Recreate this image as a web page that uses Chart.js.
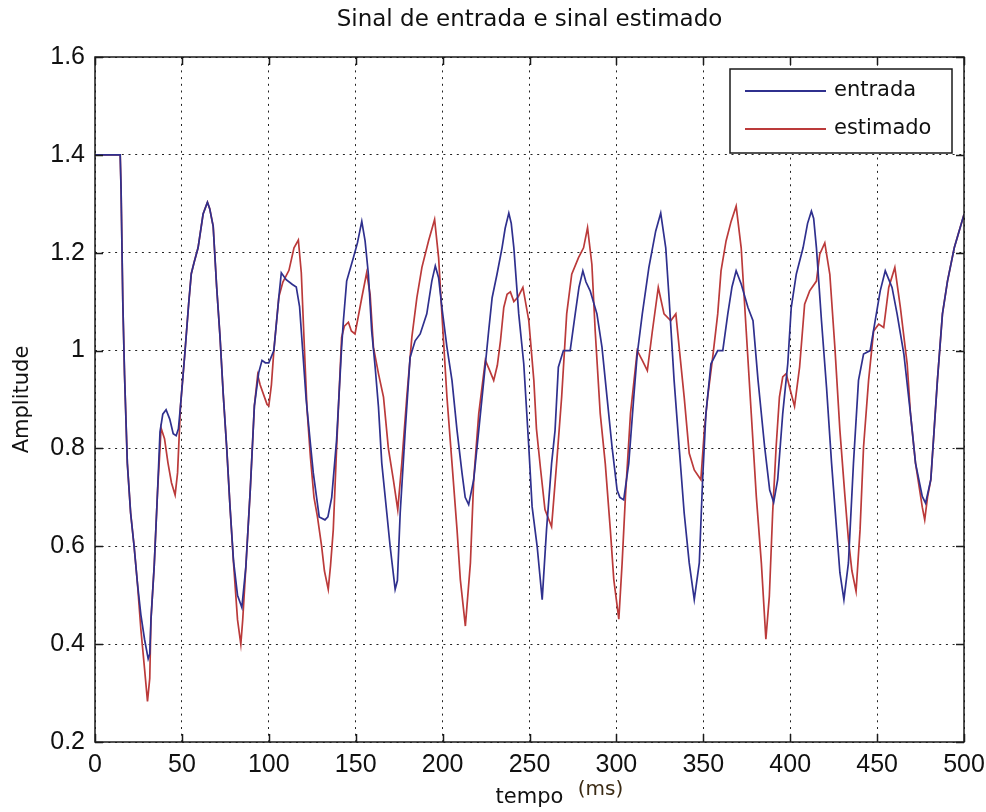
<!DOCTYPE html>
<html>
<head>
<meta charset="utf-8">
<script src="https://cdn.jsdelivr.net/npm/chart.js@4.4.0/dist/chart.umd.min.js"></script>
<style>
  html, body { margin: 0; padding: 0; background: #fff; }
  canvas { display: block; }
</style>
</head>
<body>
<canvas id="chart" width="986" height="812"></canvas>
<script>
// tempo (ms) / amplitude
const tEntrada = [0, 14.5, 15, 16, 17, 18.6, 20.5, 22.5, 24.4, 26.4, 28.5, 30.6, 31.5, 32.2, 34.1, 36, 37.4, 39, 40.9, 43, 45, 46.7, 48, 49.2,
  51.6, 53.9, 55.4, 57, 59.3, 62.2, 64.7, 66, 68, 70, 71.9, 73.8, 75.8, 77.7, 79.7, 82, 84.5, 86.8, 89.3, 91.7, 94.2, 96.1, 98, 100,
  102.9, 105.8, 107.2, 110, 113.6, 115.8, 117.7, 119.6, 121.5, 124.2, 125.6, 127.5, 129, 132.3, 134, 136.2, 139, 141.9, 142.9, 144.8,
  148.7, 151, 153.5, 155.4, 157.3, 159.2, 161.2, 163.1, 165, 167.9, 169.8, 172.7, 174, 175.6, 178.5, 181.3, 184.2, 187.1, 190.9,
  193.8, 195.8, 197.7, 199.6, 202.5, 205.4, 208.3, 211.2, 213, 215, 217.9, 220.8, 223.7, 226.5, 228.5, 231.3, 234.2, 236, 238.1,
  239.5, 241, 243.8, 246.7, 249.6, 251.5, 254.4, 257.3, 259.8, 262.7, 264.7, 266.6, 269.5, 273.4, 276.3, 278.5, 280.7, 282.5, 284.9,
  288.8, 291.7, 294.6, 297.5, 300.4, 302, 304.2, 307.1, 310, 312, 314.9, 318.7, 322.6, 325.5, 328.4, 330.3, 333.2, 336.1, 339,
  341.9, 344.8, 347.7, 349.6, 351.5, 354.4, 358.3, 361.2, 364.1, 366.5, 368.9, 371.8, 375.7, 378.6, 381.5, 385.3, 388.2, 390.5,
  392.8, 395.7, 398.6, 400.6, 403.5, 407.4, 410, 412.2, 413.5, 415.1, 418, 420.9, 423.8, 426.7, 428.6, 430.9, 433.5, 436.4, 439.3,
  442.2, 446, 448.9, 451.8, 454.7, 458.6, 461.5, 465.4, 469.2, 472.1, 476, 477.9, 480.9, 482.8, 484.7, 487.6, 490.5, 494.4, 500];
const vEntrada = [1.4, 1.4, 1.33, 1.1, 0.95, 0.77, 0.668, 0.6, 0.525, 0.46, 0.41, 0.37, 0.38, 0.45, 0.562, 0.713, 0.834, 0.87, 0.879, 0.86, 0.83, 0.826, 0.84, 0.887,
  0.99, 1.096, 1.157, 1.18, 1.21, 1.279, 1.303, 1.29, 1.254, 1.13, 1.03, 0.91, 0.8, 0.68, 0.57, 0.5, 0.475, 0.558, 0.713, 0.887, 0.955, 0.98, 0.975, 0.975,
  1.0, 1.11, 1.159, 1.145, 1.135, 1.13, 1.09, 0.995, 0.9, 0.8, 0.75, 0.7, 0.66, 0.654, 0.66, 0.7, 0.817, 1.007, 1.06, 1.142,
  1.19, 1.22, 1.264, 1.224, 1.156, 1.04, 0.966, 0.885, 0.77, 0.668, 0.6, 0.512, 0.53, 0.668, 0.837, 0.986, 1.02, 1.034, 1.075,
  1.142, 1.173, 1.149, 1.088, 1.007, 0.939, 0.837, 0.749, 0.7, 0.685, 0.736, 0.837, 0.939, 1.04, 1.108, 1.156, 1.21, 1.25, 1.281,
  1.26, 1.21, 1.075, 0.973, 0.803, 0.681, 0.6, 0.491, 0.634, 0.769, 0.837, 0.966, 1.0, 1.0, 1.075, 1.13, 1.163, 1.14, 1.122,
  1.075, 1.007, 0.905, 0.803, 0.715, 0.7, 0.695, 0.769, 0.905, 0.993, 1.075, 1.17, 1.244, 1.281, 1.21, 1.108, 0.939, 0.803, 0.668,
  0.566, 0.491, 0.566, 0.736, 0.871, 0.973, 1.0, 1.0, 1.075, 1.13, 1.163, 1.136, 1.088, 1.061, 0.939, 0.803, 0.715, 0.69,
  0.736, 0.871, 0.973, 1.088, 1.156, 1.21, 1.26, 1.285, 1.27, 1.21, 1.061, 0.925, 0.77, 0.634, 0.546, 0.491, 0.566, 0.77, 0.939,
  0.993, 1.0, 1.061, 1.122, 1.163, 1.129, 1.075, 0.993, 0.871, 0.77, 0.702, 0.688, 0.736, 0.837, 0.939, 1.075, 1.142, 1.21, 1.278];

const tEstimado = [0, 14.5, 15, 16, 17, 18.6, 20.5, 22.5, 24.4, 26.4, 28.5, 30.2, 31.5, 32.2, 34.1, 36, 37.4, 38, 40, 42, 44, 46.1, 47.5, 49.2,
  51.6, 53.9, 55.4, 57, 59.3, 62.2, 64.7, 66, 68, 70, 71.9, 73.8, 75.8, 77.7, 79.7, 82, 83.9, 85, 86.8, 89.3, 91.7, 93.6, 95, 97, 99, 100,
  101.5, 102.9, 105.8, 108.1, 111.6, 114.5, 117, 118.7, 120.6, 122, 124, 126, 128, 130.4, 132, 134.2, 135.5, 137.1, 139, 141.9, 143.5,
  145.8, 147.5, 149.6, 153.5, 156.3, 158.3, 160.2, 163.1, 166, 168.8, 171.7, 174.2, 176.5, 179.4, 182.3, 185.2, 188.1, 191.9, 195.4,
  197.7, 199.6, 202.5, 205.4, 208.3, 210.2, 213.1, 216, 217.9, 220.8, 224.6, 227, 229.4, 231.5, 233.3, 235.2, 237.1, 239, 241, 243.5,
  246.2, 249.6, 252.5, 254, 256.3, 258.9, 262.7, 265.6, 268.5, 271.4, 274.3, 278.2, 281.1, 283.4, 285.9, 287.8, 290.7, 293.6, 296.5,
  298.5, 301.4, 303.3, 305.2, 308.1, 312, 314.9, 317.8, 320.7, 324.1, 327.4, 331.3, 334.2, 336.1, 339, 341.9, 344.8, 348.6, 350.6,
  352.5, 355.4, 358.3, 360.2, 363.1, 366, 368.9, 371.8, 374.7, 377.6, 380.5, 383.4, 386, 388, 389.9, 391.9, 393.8, 395.7, 397.7, 400,
  402.5, 405.4, 408.3, 411.2, 415.1, 417, 419.9, 422.8, 425.7, 428.6, 431.5, 433.5, 435.5, 437.9, 440.2, 442.2, 445.1, 448, 450.9,
  453.8, 456.7, 460.2, 463.4, 467.3, 469.2, 472.1, 476, 477.4, 479, 480.9, 482.8, 484.7, 487.6, 490.5, 494.4, 500];
const vEstimado = [1.4, 1.4, 1.33, 1.1, 0.95, 0.77, 0.668, 0.6, 0.525, 0.43, 0.35, 0.283, 0.33, 0.45, 0.562, 0.713, 0.8, 0.842, 0.82, 0.77, 0.73, 0.705, 0.75, 0.887,
  0.99, 1.096, 1.157, 1.18, 1.21, 1.279, 1.303, 1.29, 1.254, 1.13, 1.03, 0.91, 0.8, 0.68, 0.566, 0.45, 0.4, 0.45, 0.558, 0.713, 0.887, 0.95, 0.93, 0.91, 0.89, 0.887,
  0.93, 1.0, 1.11, 1.14, 1.164, 1.21, 1.226, 1.159, 0.995, 0.88, 0.78, 0.7, 0.66, 0.6, 0.55, 0.512, 0.56, 0.634, 0.8, 1.027, 1.05,
  1.058, 1.04, 1.034, 1.108, 1.159, 1.115, 1.007, 0.953, 0.905, 0.8, 0.735, 0.675, 0.769, 0.905, 1.027, 1.108, 1.17, 1.224, 1.268,
  1.19, 1.075, 0.905, 0.77, 0.634, 0.532, 0.437, 0.566, 0.736, 0.871, 0.98, 0.96, 0.939, 0.97, 1.02, 1.088, 1.115, 1.12, 1.1, 1.11,
  1.129, 1.061, 0.939, 0.84, 0.76, 0.675, 0.64, 0.769, 0.905, 1.075, 1.156, 1.19, 1.21, 1.251, 1.176, 1.04, 0.871, 0.769, 0.634,
  0.532, 0.451, 0.566, 0.702, 0.871, 1.0, 0.98, 0.959, 1.04, 1.129, 1.075, 1.061, 1.075, 1.007, 0.905, 0.79, 0.756, 0.736, 0.837,
  0.905, 0.986, 1.075, 1.163, 1.224, 1.264, 1.295, 1.21, 1.04, 0.871, 0.702, 0.566, 0.41, 0.498, 0.668, 0.803, 0.905, 0.946, 0.953, 0.92,
  0.886, 0.966, 1.095, 1.122, 1.142, 1.197, 1.22, 1.156, 1.007, 0.837, 0.702, 0.614, 0.55, 0.508, 0.634, 0.803, 0.939, 1.04, 1.054,
  1.047, 1.129, 1.17, 1.088, 0.973, 0.871, 0.77, 0.68, 0.654, 0.7, 0.736, 0.837, 0.939, 1.075, 1.142, 1.21, 1.278];

const seriesNames = ["entrada", "estimado"];
const xTicks = [0, 50, 100, 150, 200, 250, 300, 350, 400, 450, 500];
const yTicks = [0.2, 0.4, 0.6, 0.8, 1.0, 1.2, 1.4, 1.6];
const yTickLabels = ["0.2", "0.4", "0.6", "0.8", "1", "1.2", "1.4", "1.6"];

const toPoints = (ts, vs) => ts.map((t, i) => ({x: t, y: vs[i]}));
const tickFont = {family: "'Liberation Sans Narrow', 'Liberation Sans', Arial, sans-serif", size: 25};
const textFont = {family: "'DejaVu Sans', Verdana, sans-serif", size: 21};

// box around the axes, inward ticks, legend and the "(ms)" note
const matlabAxes = {
  id: 'matlabAxes',
  afterDatasetsDraw(chart) {
    const {ctx, chartArea: a, scales: {x, y}} = chart;
    ctx.save();
    ctx.strokeStyle = '#1a1a1a';
    ctx.lineWidth = 1.5;
    ctx.strokeRect(a.left, a.top, a.right - a.left, a.bottom - a.top);
    ctx.beginPath();
    xTicks.forEach(v => {
      const px = Math.round(x.getPixelForValue(v)) + 0.5;
      ctx.moveTo(px, a.bottom); ctx.lineTo(px, a.bottom - 8);
      ctx.moveTo(px, a.top); ctx.lineTo(px, a.top + 8);
    });
    yTicks.forEach(v => {
      const py = Math.round(y.getPixelForValue(v)) + 0.5;
      ctx.moveTo(a.left, py); ctx.lineTo(a.left + 8, py);
      ctx.moveTo(a.right, py); ctx.lineTo(a.right - 8, py);
    });
    ctx.stroke();

    // legend
    const bx = a.right - 234, by = a.top + 12, bw = 222, bh = 84;
    ctx.fillStyle = '#fff';
    ctx.fillRect(bx, by, bw, bh);
    ctx.lineWidth = 1.5;
    ctx.strokeStyle = '#1a1a1a';
    ctx.strokeRect(bx, by, bw, bh);
    ctx.font = `${textFont.size}px ${textFont.family}`;
    ctx.textBaseline = 'middle';
    ctx.textAlign = 'left';
    chart.data.datasets.forEach((ds, i) => {
      const ly = by + 22 + i * 38;
      ctx.strokeStyle = ds.borderColor;
      ctx.lineWidth = 1.8;
      ctx.beginPath();
      ctx.moveTo(bx + 15, ly); ctx.lineTo(bx + 96, ly);
      ctx.stroke();
      ctx.fillStyle = '#111';
      ctx.fillText(ds.label, bx + 104, ly);
    });

    ctx.fillStyle = '#3b2b14';
    ctx.font = `20px ${textFont.family}`;
    ctx.textAlign = 'center';
    ctx.fillText('(ms)', (a.left + a.right) / 2 + 71, a.bottom + 48);
    ctx.restore();
  }
};

new Chart(document.getElementById('chart'), {
  type: 'line',
  data: {
    datasets: [{
      label: seriesNames[0],
      data: toPoints(tEntrada, vEntrada),
      borderColor: '#2f308e',
      borderWidth: 1.7,
      pointRadius: 0,
      tension: 0
    }, {
      label: seriesNames[1],
      data: toPoints(tEstimado, vEstimado),
      borderColor: '#bb3a3a',
      borderWidth: 1.7,
      pointRadius: 0,
      tension: 0
    }]
  },
  plugins: [matlabAxes],
  options: {
    responsive: false,
    animation: false,
    devicePixelRatio: 1,
    events: [],
    layout: {padding: {left: 0, right: 22, top: 0, bottom: 0}},
    plugins: {
      legend: {display: false},
      tooltip: {enabled: false},
      title: {
        display: true,
        fullSize: false,
        text: 'Sinal de entrada e sinal estimado',
        color: '#111',
        font: {family: textFont.family, size: 23, weight: 'normal'},
        padding: {top: 6, bottom: 23.4}
      }
    },
    scales: {
      x: {
        type: 'linear',
        min: 0,
        max: 500,
        afterBuildTicks: s => { s.ticks = xTicks.map(v => ({value: v})); },
        afterFit: s => { s.height = 70; s.paddingLeft = 0; s.paddingRight = 0; },
        ticks: {color: '#111', font: tickFont, padding: 8, maxRotation: 0, autoSkip: false},
        grid: {color: '#222', lineWidth: 1, drawTicks: false},
        border: {display: false, dash: [2, 4.7]},
        title: {display: true, text: 'tempo', color: '#111', font: textFont, padding: {top: 0, bottom: 2}}
      },
      y: {
        type: 'linear',
        min: 0.2,
        max: 1.6,
        afterBuildTicks: s => { s.ticks = yTicks.map(v => ({value: v})); },
        afterFit: s => { s.width = 95; s.paddingTop = 0; s.paddingBottom = 0; },
        ticks: {color: '#111', font: tickFont, padding: 10, autoSkip: false,
          callback: (v, i) => yTickLabels[i]},
        grid: {color: '#222', lineWidth: 1, drawTicks: false},
        border: {display: false, dash: [2, 4.7]},
        title: {display: true, text: 'Amplitude', color: '#111', font: textFont, padding: {top: 10, bottom: 0}}
      }
    }
  }
});
</script>
</body>
</html>
